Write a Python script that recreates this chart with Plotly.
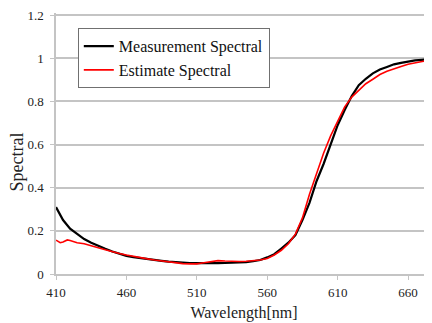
import plotly.graph_objects as go

meas_wl = [410, 415, 420, 425, 430, 435, 440, 445, 450, 455, 460, 465, 470, 475, 480, 485,
           490, 495, 500, 505, 510, 515, 520, 525, 530, 535, 540, 545, 550, 555, 560, 565,
           570, 575, 580, 585, 590, 595, 600, 605, 610, 615, 620, 625, 630, 635, 640, 645,
           650, 655, 660, 665, 670, 675, 680]
meas_val = [0.31, 0.25, 0.21, 0.185, 0.162, 0.145, 0.13, 0.117, 0.104, 0.093, 0.084, 0.078,
            0.073, 0.069, 0.065, 0.061, 0.057, 0.054, 0.052, 0.051, 0.050, 0.049, 0.049, 0.050,
            0.051, 0.052, 0.053, 0.055, 0.059, 0.065, 0.077, 0.092, 0.118, 0.145, 0.18, 0.25,
            0.33, 0.43, 0.51, 0.60, 0.69, 0.76, 0.825, 0.875, 0.905, 0.93, 0.948, 0.96, 0.972,
            0.979, 0.985, 0.99, 0.993, 0.995, 0.997]

est_wl = [410, 413, 415, 418, 420, 425, 430, 435, 440, 445, 450, 455, 460, 465, 470, 475,
          480, 485, 490, 495, 500, 505, 510, 515, 520, 525, 530, 535, 540, 545, 550, 555,
          560, 565, 570, 575, 580, 585, 590, 595, 600, 605, 610, 615, 620, 625, 630, 635,
          640, 645, 650, 655, 660, 665, 670, 675, 680]
est_val = [0.157, 0.145, 0.148, 0.158, 0.155, 0.145, 0.14, 0.132, 0.122, 0.112, 0.102, 0.095,
           0.088, 0.081, 0.075, 0.07, 0.065, 0.06, 0.055, 0.05, 0.048, 0.047, 0.047, 0.052,
           0.058, 0.062, 0.06, 0.058, 0.058, 0.059, 0.061, 0.065, 0.072, 0.088, 0.11, 0.14,
           0.185, 0.26, 0.37, 0.47, 0.56, 0.64, 0.71, 0.775, 0.82, 0.85, 0.882, 0.903, 0.925,
           0.94, 0.952, 0.962, 0.972, 0.98, 0.985, 0.989, 0.992]

x_ticks = [410, 460, 510, 560, 610, 660]
y_ticks = [0, 0.2, 0.4, 0.6, 0.8, 1.0, 1.2]
y_tick_labels = ["0", "0.2", "0.4", "0.6", "0.8", "1", "1.2"]

FONT = "Times New Roman, Liberation Serif, DejaVu Serif, serif"
GRID = "#c4c4c4"

fig = go.Figure()
fig.add_trace(go.Scatter(x=meas_wl, y=meas_val, mode="lines", name="Measurement Spectral",
                         line=dict(color="#000000", width=2.2)))
fig.add_trace(go.Scatter(x=est_wl, y=est_val, mode="lines", name="Estimate Spectral",
                         line=dict(color="#ff0000", width=1.6)))

fig.update_layout(
    width=432, height=323,
    margin=dict(l=48, r=8, t=5, b=57, autoexpand=False),
    paper_bgcolor="white", plot_bgcolor="white",
    font=dict(family=FONT, size=13, color="#222222"),
    showlegend=True,
    legend=dict(x=0.058, y=0.942, xanchor="left", yanchor="top",
                bgcolor="white", bordercolor="#707070", borderwidth=1,
                font=dict(family=FONT, size=16, color="#111111"),
                tracegroupgap=0, itemwidth=30),
    xaxis=dict(range=[410, 677], tickvals=x_ticks, ticktext=[str(v) for v in x_ticks],
               showgrid=False, zeroline=False, automargin=False,
               showline=True, linecolor=GRID, linewidth=1.5,
               ticks="outside", ticklen=4, tickcolor=GRID,
               ticklabeloverflow="allow", ticklabelstandoff=2,
               title=dict(text="Wavelength[nm]", font=dict(family=FONT, size=16), standoff=7),
               tickfont=dict(family=FONT, size=13)),
    yaxis=dict(range=[0, 1.21], tickvals=y_ticks, ticktext=y_tick_labels,
               showgrid=True, gridcolor=GRID, gridwidth=1.5, zeroline=False, automargin=False,
               showline=True, linecolor=GRID, linewidth=1.5,
               ticks="outside", ticklen=4, tickcolor=GRID,
               ticklabeloverflow="allow", ticklabelstandoff=4,
               tickfont=dict(family=FONT, size=13)),
    annotations=[dict(text="Spectral", textangle=-90, xref="paper", yref="paper",
                      x=-0.104, y=0.431, xanchor="center", yanchor="middle",
                      showarrow=False, font=dict(family=FONT, size=18, color="#222222"))],
)

fig.write_html("out.html")
